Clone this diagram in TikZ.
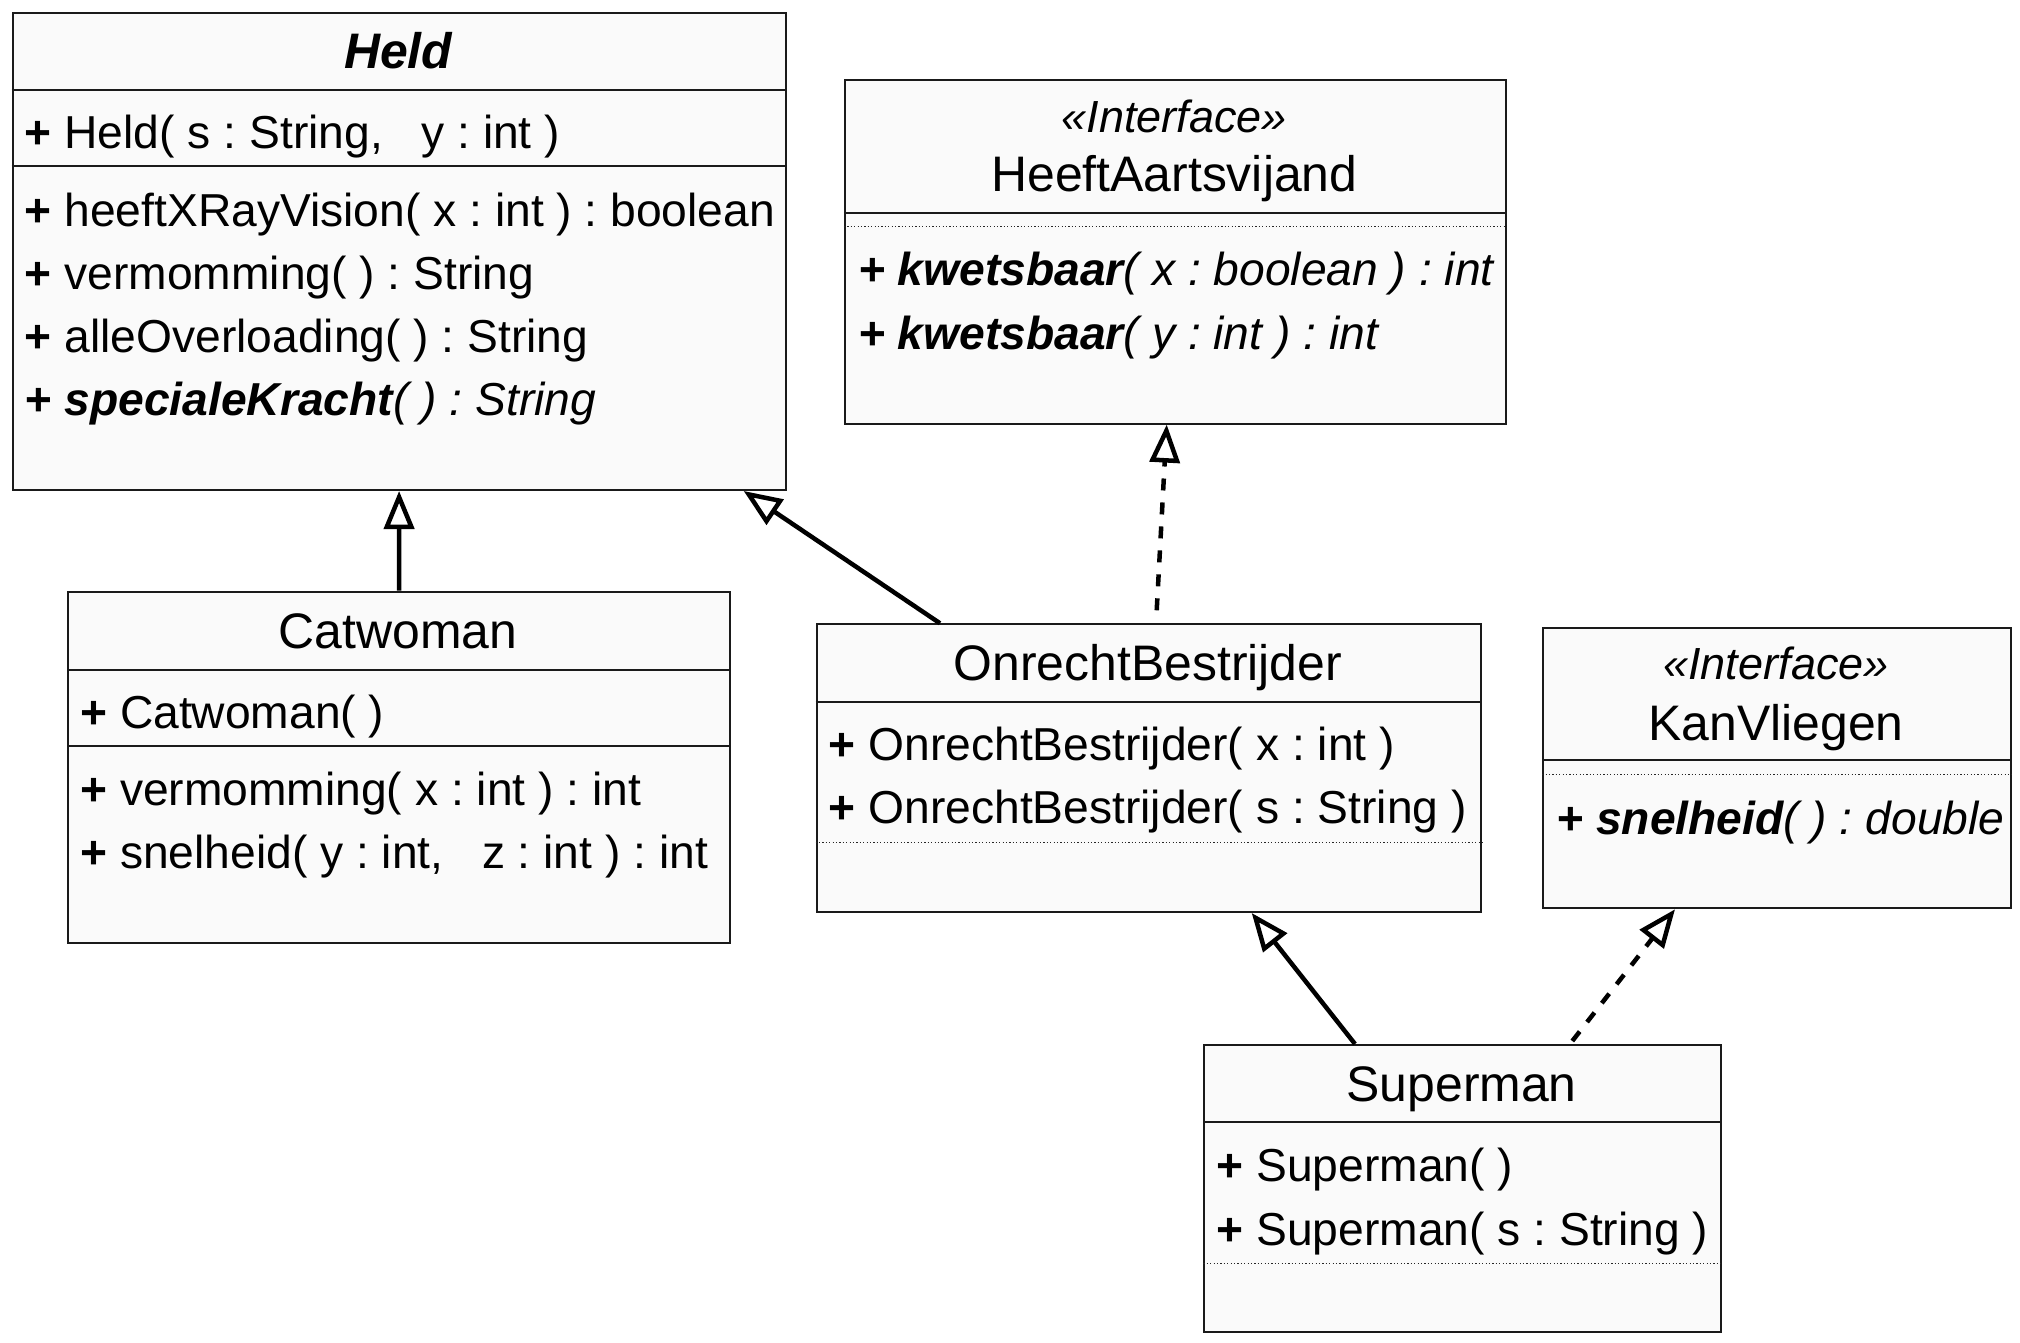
\documentclass[tikz,border=0pt]{standalone}
\usepackage{fontspec}
\setmainfont{Liberation Sans}
\usetikzlibrary{arrows.meta}
\definecolor{boxfill}{HTML}{FAFAFA}
\definecolor{edge}{HTML}{1A1A1A}
\frenchspacing
\begin{document}
\frenchspacing
\begin{tikzpicture}[x=1pt,y=-1pt,
  box/.style={draw=edge, line width=2pt, fill=boxfill, rectangle, inner sep=0pt, anchor=north west},
  div/.style={draw=edge, line width=2pt},
  dots/.style={draw=black!85, line width=1.2pt, dash pattern=on 1.2pt off 2.2pt},
  txt/.style={anchor=base west, inner sep=0pt, font=\fontsize{46.2}{55}\selectfont},
  ttl/.style={anchor=base, inner sep=0pt, font=\fontsize{49.9}{58}\selectfont},
  ster/.style={anchor=base, inner sep=0pt, font=\fontsize{45}{54}\selectfont\itshape},
  gen/.style={-{Triangle[open,length=38pt,width=30pt]}, line width=4.5pt, black},
  real/.style={gen, dash pattern=on 12pt off 12pt}]
\useasboundingbox (0,0) rectangle (2020,1343);
\fill[white] (0,0) rectangle (2020,1343);

% ---------- Held ----------
\node[box, minimum width=773pt, minimum height=477.4pt] (held) at (11.6,11.6) {};
\draw[div] ([yshift=-78.6pt]held.north west) -- ([yshift=-78.6pt]held.north east);
\draw[div] ([yshift=-154.6pt]held.north west) -- ([yshift=-154.6pt]held.north east);
\node[ttl, font=\fontsize{49.9}{58}\selectfont\bfseries\itshape] (heldT) at (398.1,69) {Held};
\node[txt] (heldC) at (24.6,148.7) {\textbf{+} Held( s : String,\ \ \ y : int )};
\node[txt] (heldM1) at (24.6,226.0) {\textbf{+} heeftXRayVision( x : int ) : boolean};
\node[txt] (heldM2) at (24.6,289.1) {\textbf{+} vermomming( ) : String};
\node[txt] (heldM3) at (24.6,352.2) {\textbf{+} alleOverloading( ) : String};
\node[txt] (heldM4) at (24.6,415.3) {\itshape\textbf{+ specialeKracht}( ) : String};

% ---------- HeeftAartsvijand ----------
\node[box, minimum width=660.8pt, minimum height=344pt] (ha) at (843.9,78.6) {};
\draw[div] ([yshift=-134pt]ha.north west) -- ([yshift=-134pt]ha.north east);
\draw[dots] ([yshift=-148.1pt]ha.north west) -- ([yshift=-148.1pt]ha.north east);
\node[ster] (haS) at (1174.3,133) {«Interface»};
\node[ttl] (haT) at (1174.3,192) {HeeftAartsvijand};
\node[txt] (haM1) at (857.9,285.3) {\itshape\textbf{+ kwetsbaar}( x : boolean ) : int};
\node[txt] (haM2) at (857.9,349.7) {\itshape\textbf{+ kwetsbaar}( y : int ) : int};

% ---------- Catwoman ----------
\node[box, minimum width=662.2pt, minimum height=351.1pt] (cat) at (67,590.7) {};
\draw[div] ([yshift=-79.2pt]cat.north west) -- ([yshift=-79.2pt]cat.north east);
\draw[div] ([yshift=-155.2pt]cat.north west) -- ([yshift=-155.2pt]cat.north east);
\node[ttl] (catT) at (398.1,648.3) {Catwoman};
\node[txt] (catC) at (80,728.4) {\textbf{+} Catwoman( )};
\node[txt] (catM1) at (80,805.7) {\textbf{+} vermomming( x : int ) : int};
\node[txt] (catM2) at (80,868.8) {\textbf{+} snelheid( y : int,\ \ \ z : int ) : int};

% ---------- OnrechtBestrijder ----------
\node[box, minimum width=664.8pt, minimum height=287.7pt] (onr) at (815.5,623.3) {};
\draw[div] ([yshift=-78.8pt]onr.north west) -- ([yshift=-78.8pt]onr.north east);
\draw[dots] ([yshift=-219.3pt]onr.north west) -- ([yshift=-219.3pt]onr.north east);
\node[ttl] (onrT) at (1147.9,680.7) {OnrechtBestrijder};
\node[txt] (onrC1) at (828.5,760.6) {\textbf{+} OnrechtBestrijder( x : int )};
\node[txt] (onrC2) at (828.5,823.8) {\textbf{+} OnrechtBestrijder( s : String )};

% ---------- KanVliegen ----------
\node[box, minimum width=467.7pt, minimum height=279.9pt] (kv) at (1542.1,627.4) {};
\draw[div] ([yshift=-132.7pt]kv.north west) -- ([yshift=-132.7pt]kv.north east);
\draw[dots] ([yshift=-146.9pt]kv.north west) -- ([yshift=-146.9pt]kv.north east);
\node[ster] (kvS) at (1776,679.5) {«Interface»};
\node[ttl] (kvT) at (1776,740.7) {KanVliegen};
\node[txt] (kvM1) at (1556.1,834) {\itshape\textbf{+ snelheid}( ) : double};

% ---------- Superman ----------
\node[box, minimum width=516.6pt, minimum height=286.8pt] (sup) at (1203.3,1044) {};
\draw[div] ([yshift=-78.1pt]sup.north west) -- ([yshift=-78.1pt]sup.north east);
\draw[dots] ([yshift=-219.8pt]sup.north west) -- ([yshift=-219.8pt]sup.north east);
\node[ttl] (supT) at (1461.6,1101) {Superman};
\node[txt] (supC1) at (1216.3,1181.9) {\textbf{+} Superman( )};
\node[txt] (supC2) at (1216.3,1245) {\textbf{+} Superman( s : String )};

% ---------- connectors ----------
\draw[gen] (cat.north) -- (held.south);
\draw[gen] ([xshift=124.5pt]onr.north west) -- ([xshift=-42.9pt]held.south east);
\draw[real] ([xshift=341.2pt,yshift=13pt]onr.north west) -- ([xshift=322.8pt]ha.south west);
\draw[gen] ([xshift=151.7pt]sup.north west) -- ([xshift=436.2pt]onr.south west);
\draw[real] ([xshift=369pt,yshift=3pt]sup.north west) -- ([xshift=132.9pt]kv.south west);
\end{tikzpicture}
\end{document}
